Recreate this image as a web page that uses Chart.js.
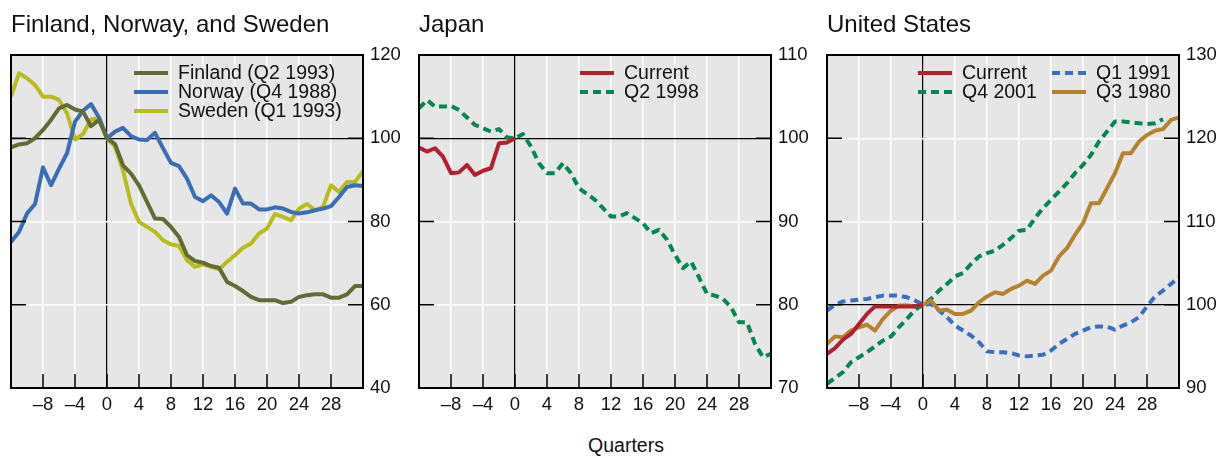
<!DOCTYPE html>
<html>
<head>
<meta charset="utf-8">
<script src="https://cdn.jsdelivr.net/npm/chart.js@4.4.0/dist/chart.umd.min.js"></script>
<style>
  body { margin: 0; background: #fff; width: 1228px; height: 458px; position: relative; overflow: hidden; font-family: "Liberation Sans", Arial, sans-serif; }
  .panel { position: absolute; top: 0; width: 408px; height: 425px; }
  .title { position: absolute; top: 10px; font-size: 24px; color: #111; white-space: nowrap; }
  #xTitle { position: absolute; left: 12px; width: 1228px; top: 434px; text-align: center; font-size: 19.5px; color: #111; }
</style>
</head>
<body>
<div class="panel" style="left:0"><canvas id="nordicChart" width="408" height="425"></canvas></div>
<div class="panel" style="left:408px"><canvas id="japanChart" width="408" height="425"></canvas></div>
<div class="panel" style="left:816px"><canvas id="usChart" width="408" height="425"></canvas></div>
<div class="title" style="left:11px">Finland, Norway, and Sweden</div>
<div class="title" style="left:419px">Japan</div>
<div class="title" style="left:827px">United States</div>
<div id="xTitle">Quarters</div>
<script>
// quarters relative to the start of the episode
const quarters = [-12, -11, -10, -9, -8, -7, -6, -5, -4, -3, -2, -1, 0, 1, 2, 3, 4, 5, 6, 7, 8, 9, 10, 11, 12, 13, 14, 15, 16, 17, 18, 19, 20, 21, 22, 23, 24, 25, 26, 27, 28, 29, 30, 31, 32];
const quartersToNow = [-12, -11, -10, -9, -8, -7, -6, -5, -4, -3, -2, -1, 0];
const quartersTo30 = [-12, -11, -10, -9, -8, -7, -6, -5, -4, -3, -2, -1, 0, 1, 2, 3, 4, 5, 6, 7, 8, 9, 10, 11, 12, 13, 14, 15, 16, 17, 18, 19, 20, 21, 22, 23, 24, 25, 26, 27, 28, 29, 30];
const xTickValues = [-8, -4, 0, 4, 8, 12, 16, 20, 24, 28];

// Finland, Norway, and Sweden
const finland = [97.8, 98.5, 98.8, 100, 102, 104.4, 107.2, 108, 106.9, 106.4, 102.9, 104.4, 100,
  98.6, 93.5, 91.5, 88.7, 84.7, 80.7, 80.6, 78.7, 76.3, 71.9,
  70.5, 70.1, 69.3, 68.9, 65.5, 64.5, 63.3, 61.9, 61.1, 61.1,
  61.1, 60.4, 60.7, 61.9, 62.3, 62.5, 62.5, 61.7, 61.7, 62.5,
  64.5, 64.5];
const norway = [75.1, 77.5, 81.9, 84.2, 93, 88.7, 92.7, 96.4, 104, 106.6, 108.2, 105, 100,
  101.6, 102.5, 100.5, 99.7, 99.6, 101.3, 97.6, 94.1, 93.3, 90.3,
  85.9, 84.9, 86.3, 84.7, 81.9, 87.9, 84.3, 84.3, 82.9, 82.9,
  83.4, 83.1, 82.3, 81.9, 82.2, 82.7, 83.1, 83.7, 85.9, 88.3,
  88.7, 88.5];
const sweden = [110, 115.6, 114.4, 112.8, 110, 110, 109.2, 106, 99.7, 101, 104.5, 104.8, 100,
  98, 92.3, 84.3, 79.9, 78.7, 77.5, 75.5, 74.5, 74.1, 70.7,
  69.1, 69.7, 69.1, 68.5, 70.3, 71.9, 73.7, 74.7, 77.1, 78.3,
  81.8, 81.1, 80.3, 83.1, 84.2, 82.7, 83.5, 88.7, 87.1, 89.5,
  89.5, 92.1];
const nordicTicks = [40, 60, 80, 100, 120];

// Japan
const japanCurrent = [98.9, 98.4, 98.8, 97.8, 95.8, 95.9, 96.8, 95.6, 96.1, 96.4, 99.4, 99.5, 100];
const japanQ2_1998 = [103.6, 104.6, 103.8, 103.8, 103.9, 103.4, 102.5, 101.6, 101.2, 100.8, 101.1, 100.1, 100,
  100.5, 99, 97, 95.8, 95.8, 97, 95.8, 94, 93.3, 92.6,
  91.6, 90.6, 90.6, 91, 90.4, 89.8, 88.6, 89, 87.8, 86,
  84.4, 85.2, 83.3, 81.3, 81.1, 80.7, 79.7, 77.9, 77.9, 75.3,
  73.7, 74.1];
const japanTicks = [70, 80, 90, 100, 110];

// United States
const usCurrent = [94.1, 94.8, 95.8, 96.5, 97.7, 98.9, 99.8, 99.8, 99.8, 99.8, 99.8, 99.8, 100];
const usQ1_1991 = [99.3, 100, 100.4, 100.5, 100.6, 100.7, 100.9, 101.1, 101.1, 101.1, 100.9, 100.5, 100,
  100.1, 99.3, 98.5, 97.5, 96.9, 96.3, 95.5, 94.4, 94.3, 94.3,
  94.2, 93.9, 93.8, 93.9, 94, 94.5, 95.3, 95.9, 96.5, 96.9,
  97.3, 97.4, 97.4, 97, 97.5, 97.9, 98.5, 99.8, 101, 101.7,
  102.5, 103.3];
const usQ4_2001 = [90.5, 91.2, 91.9, 93.1, 93.7, 94.3, 95, 95.7, 96.2, 97.3, 98.3, 99.4, 100,
  100.7, 101.7, 102.5, 103.4, 103.8, 104.9, 105.8, 106.2, 106.5, 107.2,
  108, 108.9, 109, 110.4, 111.6, 112.6, 113.6, 114.6, 115.8, 116.8,
  118, 119.6, 120.8, 122, 122, 121.9, 121.8, 121.7, 121.8, 122.3];
const usQ3_1980 = [95.3, 96.2, 96.1, 96.9, 97.3, 97.6, 96.9, 98.3, 99.3, 99.9, 99.9, 99.8, 100,
  100.5, 99.3, 99.4, 98.9, 98.9, 99.3, 100.3, 101, 101.5, 101.3,
  101.9, 102.3, 102.9, 102.5, 103.5, 104.1, 105.8, 106.8, 108.4, 109.8,
  112.2, 112.2, 114, 115.8, 118.2, 118.2, 119.6, 120.4, 120.9, 121.1,
  122.2, 122.5];
const usTicks = [90, 100, 110, 120, 130];

const FONT = '"Liberation Sans", Arial, sans-serif';
const DASH = [8, 5];

function points(xs, ys) {
  return ys.map((y, i) => ({ x: xs[i], y }));
}

function fmtTick(value) {
  return value < 0 ? "\u2013" + Math.abs(value) : String(value);
}

function lineSet(label, xs, ys, color, dashed, order) {
  return {
    label,
    data: points(xs, ys),
    borderColor: color,
    backgroundColor: color,
    borderWidth: 4,
    borderDash: dashed ? DASH : [],
    borderJoinStyle: "round",
    pointRadius: 0,
    tension: 0,
    order,
  };
}

// plot background, frame, inside tick marks and legend
const panelDecor = {
  id: "panelDecor",
  beforeDraw(chart) {
    const { ctx, chartArea: a } = chart;
    ctx.save();
    ctx.fillStyle = "#e6e6e6";
    ctx.fillRect(a.left, a.top, a.right - a.left, a.bottom - a.top);
    ctx.restore();
  },
  afterDraw(chart) {
    const { ctx, chartArea: a, scales } = chart;
    ctx.save();
    ctx.strokeStyle = "#000";
    ctx.lineWidth = 1.5;
    ctx.beginPath();
    xTickValues.forEach((v) => {
      const px = scales.x.getPixelForValue(v);
      ctx.moveTo(px, a.bottom);
      ctx.lineTo(px, a.bottom - 14);
    });
    scales.y.ticks.forEach((t) => {
      const py = scales.y.getPixelForValue(t.value);
      ctx.moveTo(a.right, py);
      ctx.lineTo(a.right - 15, py);
      ctx.moveTo(a.left, py);
      ctx.lineTo(a.left + 15, py);
    });
    ctx.stroke();
    ctx.lineWidth = 2;
    ctx.strokeRect(a.left, a.top, a.right - a.left, a.bottom - a.top);

    const legend = chart.options.plugins.panelDecor.legend || [];
    ctx.font = `19.5px ${FONT}`;
    ctx.textBaseline = "middle";
    ctx.fillStyle = "#111";
    legend.forEach((item) => {
      const ds = chart.data.datasets[item.index];
      const x = a.left + item.x;
      const y = a.top + item.y;
      ctx.strokeStyle = ds.borderColor;
      ctx.lineWidth = ds.borderWidth;
      ctx.setLineDash(ds.borderDash);
      ctx.beginPath();
      ctx.moveTo(x, y);
      ctx.lineTo(x + 34, y);
      ctx.stroke();
      ctx.setLineDash([]);
      ctx.fillText(ds.label, x + 44, y + 1);
    });
    ctx.restore();
  },
};

function makePanel(canvasId, datasets, yTicks, legend) {
  return new Chart(document.getElementById(canvasId), {
    type: "line",
    data: { datasets },
    options: {
      responsive: false,
      animation: false,
      layout: { padding: { left: 11, top: 55, right: 0, bottom: 0 } },
      plugins: {
        legend: { display: false },
        tooltip: { enabled: false },
        panelDecor: { legend },
      },
      scales: {
        x: {
          type: "linear",
          min: -12,
          max: 32,
          afterBuildTicks: (scale) => {
            scale.ticks = xTickValues.map((v) => ({ value: v }));
          },
          afterFit: (scale) => {
            scale.height = 37;
          },
          border: { display: false },
          grid: {
            drawTicks: false,
            color: (c) => (c.tick && c.tick.value === 0 ? "#000" : "#fff"),
            lineWidth: (c) => (c.tick && c.tick.value === 0 ? 1.2 : 1.5),
          },
          ticks: {
            padding: 6,
            color: "#111",
            font: { family: FONT, size: 18.5 },
            maxRotation: 0,
            autoSkip: false,
            callback: fmtTick,
          },
        },
        y: {
          position: "right",
          min: yTicks[0],
          max: yTicks[yTicks.length - 1],
          afterBuildTicks: (scale) => {
            scale.ticks = yTicks.map((v) => ({ value: v }));
          },
          afterFit: (scale) => {
            scale.width = 45;
          },
          border: { display: false },
          grid: {
            drawTicks: false,
            color: (c) => (c.tick && c.tick.value === 100 ? "#000" : "#fff"),
            lineWidth: (c) => (c.tick && c.tick.value === 100 ? 1.2 : 1.5),
          },
          ticks: {
            padding: 7,
            color: "#111",
            font: { family: FONT, size: 18.5 },
            callback: (v) => String(v),
          },
        },
      },
    },
    plugins: [panelDecor],
  });
}

makePanel(
  "nordicChart",
  [
    lineSet("Finland (Q2 1993)", quarters, finland, "#626b35", false, 1),
    lineSet("Norway (Q4 1988)", quarters, norway, "#3a6db5", false, 2),
    lineSet("Sweden (Q1 1993)", quarters, sweden, "#b8bd1c", false, 3),
  ],
  nordicTicks,
  [
    { index: 0, x: 123, y: 18 },
    { index: 1, x: 123, y: 37 },
    { index: 2, x: 123, y: 56 },
  ]
);

makePanel(
  "japanChart",
  [
    lineSet("Current", quartersToNow, japanCurrent, "#b31f2e", false, 1),
    lineSet("Q2 1998", quarters, japanQ2_1998, "#03874f", true, 2),
  ],
  japanTicks,
  [
    { index: 0, x: 161, y: 18 },
    { index: 1, x: 161, y: 37 },
  ]
);

makePanel(
  "usChart",
  [
    lineSet("Current", quartersToNow, usCurrent, "#b31f2e", false, 1),
    lineSet("Q1 1991", quarters, usQ1_1991, "#3a6fbf", true, 3),
    lineSet("Q4 2001", quartersTo30, usQ4_2001, "#03874f", true, 4),
    lineSet("Q3 1980", quarters, usQ3_1980, "#b5832f", false, 2),
  ],
  usTicks,
  [
    { index: 0, x: 91, y: 18 },
    { index: 1, x: 225, y: 18 },
    { index: 2, x: 91, y: 37 },
    { index: 3, x: 225, y: 37 },
  ]
);
</script>
</body>
</html>
